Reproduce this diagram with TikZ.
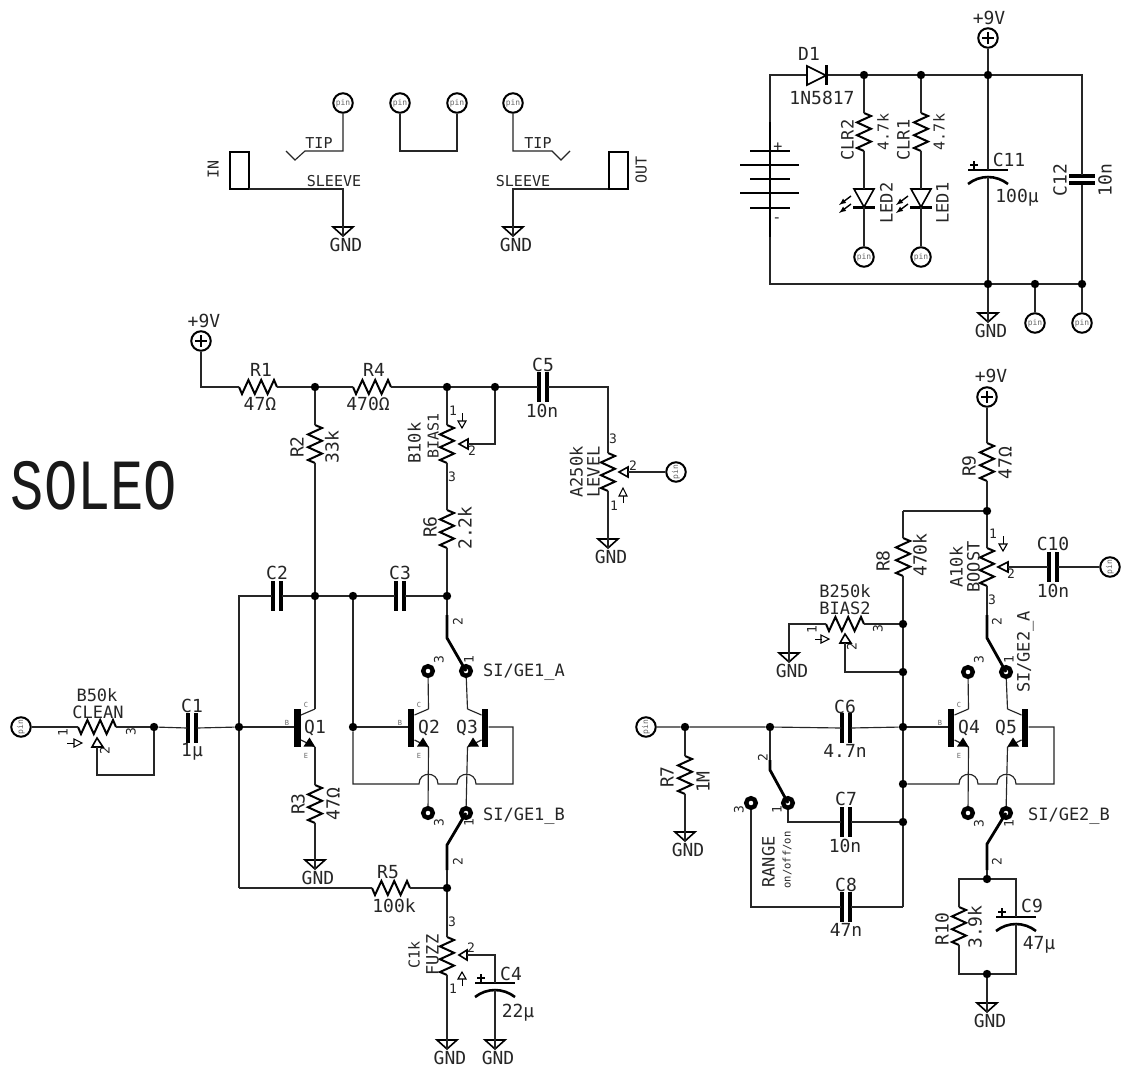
\documentclass[tikz,border=0pt]{standalone}
\usepackage{fontspec}
\newfontfamily\vf{DejaVu Sans Mono}
\newfontfamily\tf{Liberation Mono}
\usetikzlibrary{calc}
\tikzset{
 wire/.style={line width=1.15pt,black!85,line join=miter},
 zig/.style={line width=2pt,black,line join=miter},
 heavy/.style={line width=2.8pt,black},
 plate/.style={line width=2.6pt,black},
 tri/.style={line width=1.6pt,black,fill=white,line join=miter},
 junc/.style={circle,fill=black,inner sep=0,minimum size=8.4pt},
 pinn/.style={circle,draw=black,line width=2pt,fill=white,inner sep=0,minimum size=19.5pt,text=black!60,font=\vf\fontsize{8}{8}\selectfont},
 pad/.style={circle,draw=black,line width=4.4pt,fill=white,inner sep=0,minimum size=9.6pt},
 lbl/.style={inner sep=0,text height=13pt,text depth=0pt,font=\vf\fontsize{18}{18}\selectfont,black!85},
 lblp/.style={inner sep=0,text height=13pt,text depth=0pt,font=\vf\fontsize{17}{17}\selectfont,black!85},
 lblm/.style={inner sep=0,text height=11pt,text depth=0pt,font=\vf\fontsize{15}{15}\selectfont,black!85},
 num/.style={inner sep=0,text height=9pt,text depth=0pt,font=\vf\fontsize{13}{13}\selectfont,black!85},
 tin/.style={inner sep=0,text height=5pt,text depth=0pt,font=\vf\fontsize{7}{7}\selectfont,black!60},
 up/.style={rotate=90},
}
% label: [style]{name}{x}{y}{text}
\newcommand\Lb[5][lbl]{\node[#1] (#2) at (#3,#4) {#5};}
\newcommand\J[3]{\node[junc] (#1) at (#2,#3) {};}
\newcommand\Pin[4][0]{\node[pinn] (#2) at (#3,#4) {\rotatebox{#1}{pin}};}
\newcommand\Pwr[3]{\node[pinn] (#1) at (#2,#3) {};\draw[line width=1.1pt] (#2-6,#3)--(#2+6,#3) (#2,#3-6)--(#2,#3+6);}
\newcommand\Gnd[3]{\coordinate (#1) at (#2,#3);\draw[tri,fill=none] (#2-10,#3-9)--(#2+10,#3-9)--(#2,#3)--cycle;\node[lbl] (#1t) at (#2+3,#3+9) {GND};}
\newcommand\Rv[3]{\coordinate (#1a) at (#2,#3);\coordinate (#1b) at (#2,#3+38);
 \draw[zig] (#2,#3)--(#2+7,#3+3)--(#2-7,#3+9.4)--(#2+7,#3+15.8)--(#2-7,#3+22.2)--(#2+7,#3+28.6)--(#2-7,#3+35)--(#2,#3+38);}
\newcommand\Rh[3]{\coordinate (#1a) at (#2,#3);\coordinate (#1b) at (#2+38,#3);
 \draw[zig] (#2,#3)--(#2+3,#3+7)--(#2+9.4,#3-7)--(#2+15.8,#3+7)--(#2+22.2,#3-7)--(#2+28.6,#3+7)--(#2+35,#3-7)--(#2+38,#3);}
\newcommand\Ch[3]{\coordinate (#1a) at (#2-5,#3);\coordinate (#1b) at (#2+5,#3);
 \draw[line width=4.2pt] (#2-4,#3-15)--(#2-4,#3+15) (#2+4,#3-15)--(#2+4,#3+15);}
\newcommand\Cv[3]{\coordinate (#1a) at (#2,#3-5);\coordinate (#1b) at (#2,#3+5);
 \draw[line width=4.2pt] (#2-13,#3-3.5)--(#2+13,#3-3.5) (#2-13,#3+3.5)--(#2+13,#3+3.5);}
\newcommand\Cp[3]{\coordinate (#1a) at (#2,#3);\coordinate (#1b) at (#2,#3+7);
 \draw[plate] (#2-20,#3)--(#2+20,#3);
 \draw[plate] (#2-20,#3+14) .. controls (#2-8,#3+4.7) and (#2+8,#3+4.7) .. (#2+20,#3+14);
 \draw[line width=1.6pt] (#2-18,#3-5)--(#2-10,#3-5) (#2-14,#3-9)--(#2-14,#3-1);}
% transistor: name, bar x, direction
\newcommand\Qt[3]{\coordinate (#1c) at (#2+#3*17.5,709);\coordinate (#1e) at (#2+#3*17.5,747);\coordinate (#1s) at (#2-#3*3.5,727);
 \draw[line width=6.8pt] (#2,709)--(#2,747);
 \draw[wire] (#2+#3*3.5,715)--(#1c);
 \draw[wire] (#2+#3*3.5,740)--(#1e);
 \fill (#2+#3*6,746.5)--(#2+#3*17.5,746.5)--(#2+#3*12,737.5)--cycle;}
% LED: name, x
\newcommand\Led[2]{\coordinate (#1a) at (#2,189);\coordinate (#1b) at (#2,207);
 \draw[tri,fill=none] (#2-10,189)--(#2+10,189)--(#2,207)--cycle;
 \draw[plate] (#2-11,207.5)--(#2+11,207.5);
 \draw[line width=1.4pt,-latex] (#2-13,196)--(#2-25,205);
 \draw[line width=1.4pt,-latex] (#2-13,204)--(#2-25,213);}
\begin{document}
\begin{tikzpicture}[x=1pt,y=-1pt]
\useasboundingbox (0,0) rectangle (1122,1065);
\fill[white] (0,0) rectangle (1122,1065);

\node[inner sep=0,font=\tf\fontsize{72}{72}\selectfont,black!90,text height=47pt,text depth=0pt,xscale=.77] (title) at (94,486) {SOLEO};

%===== input/output jacks
\Pin{pa}{343}{103}\Pin{pb}{400}{103}\Pin{pc}{457}{103}\Pin{pd}{513}{103}
\node[draw,line width=2pt,minimum width=19pt,minimum height=37pt,inner sep=0] (jin) at (239,170) {};
\node[draw,line width=2pt,minimum width=19pt,minimum height=37pt,inner sep=0] (jout) at (618,170) {};
\Lb[lblm,up]{tin}{213}{169}{IN}
\Lb[lblm,up]{tout}{641}{170}{OUT}
\coordinate (ta) at (343,151);\coordinate (tb) at (305,151);\coordinate (tc) at (295,160);\coordinate (td) at (286,151);
\draw[wire] (pa)--(ta)--(tb)--(tc)--(td);
\coordinate (tf) at (400,151);\coordinate (tg) at (457,151);
\draw[wire] (pb)--(tf)--(tg)--(pc);
\coordinate (th) at (513,151);\coordinate (ti) at (552,151);\coordinate (tj) at (561,160);\coordinate (tk) at (570,151);
\draw[wire] (pd)--(th)--(ti)--(tj)--(tk);
\Lb[lblm]{tip1}{319}{143}{TIP}\Lb[lblm]{tip2}{538}{143}{TIP}
\Lb[lblm]{sl1}{334}{181}{SLEEVE}\Lb[lblm]{sl2}{523}{181}{SLEEVE}
\Gnd{ga}{343}{236}\Gnd{gb}{513}{236}
\coordinate (sa) at (343,189);\coordinate (sb) at (513,189);
\coordinate (ji) at (249,189);\coordinate (jo) at (608,189);
\draw[wire] (ji)--(sa)--(ga);
\draw[wire] (jo)--(sb)--(gb);

%===== power section
\Pwr{v0}{988}{38}\Lb{v0t}{989}{18}{+9V}
\J{k1}{864}{75}\J{k2}{921}{75}\J{k3}{988}{75}
\J{k4}{988}{284}\J{k5}{1035}{284}\J{k6}{1082}{284}
\coordinate (bt) at (770,75);\coordinate (bb) at (770,284);\coordinate (rt) at (1082,75);
\coordinate (dA) at (807,75);\coordinate (dK) at (826,75);
\Cv{c12}{1082}{179.5}
\draw[wire] (k3)--(v0);
\draw[wire] (dA)--(bt)--(bb)--(k4)--(k5)--(k6);
\draw[wire] (dK)--(k1)--(k2)--(k3)--(rt)--(c12a) (c12b)--(k6);
\draw[tri,fill=none] (807,66)--(807,85)--(826,75.5)--cycle;
\draw[plate] (826.5,65.5)--(826.5,85.5);
\Lb{d1t}{809}{54}{D1}\Lb{d1v}{822}{98}{1N5817}
\draw[plate] (770,122)--(770,237);
\draw[plate] (750,151)--(790,151) (740,165)--(799,165) (750,179)--(790,179) (740,193)--(799,193) (750,208)--(790,208);
\Lb[lblm]{bp}{778}{146}{+}\Lb[lblm]{bm}{777}{217}{-}
\Rv{clr2}{864}{113}\Rv{clr1}{921}{113}
\Lb[lblp,up]{c2t}{847}{140}{CLR2}\Lb[lblm,up]{c2v}{883}{132}{4.7k}
\Lb[lblp,up]{c1t}{903}{140}{CLR1}\Lb[lblm,up]{c1v}{939}{132}{4.7k}
\Led{l2}{864}\Led{l1}{921}
\Lb[lblp,up]{l2t}{886}{203}{LED2}\Lb[lblp,up]{l1t}{942}{203}{LED1}
\Pin{pl2}{864}{257}\Pin{pl1}{921}{257}
\draw[wire] (k1)--(clr2a) (clr2b)--(l2a) (l2b)--(pl2);
\draw[wire] (k2)--(clr1a) (clr1b)--(l1a) (l1b)--(pl1);
\Cp{c11}{988}{170}
\draw[wire] (k3)--(c11a) (c11b)--(k4);
\Lb{c11t}{1009}{160}{C11}\Lb{c11v}{1017}{196}{100µ}
\Lb[lbl,up]{c12t}{1060}{180}{C12}\Lb[lbl,up]{c12v}{1105}{180}{10n}
\Gnd{gc}{988}{322}\Pin{pe}{1035}{323}\Pin{pf}{1082}{323}
\draw[wire] (k4)--(gc) (k5)--(pe) (k6)--(pf);

%===== left: supply and bias
\Pwr{v1}{201}{341}\Lb{v1t}{204}{321}{+9V}
\coordinate (v1c) at (201,387);
\J{m1}{315}{387}\J{m2}{447}{387}\J{m3}{495}{387}
\Rh{r1}{239}{387}\Rh{r4}{353}{387}
\Lb{r1t}{261}{370}{R1}\Lb{r1v}{260}{404}{47Ω}
\Lb{r4t}{374}{370}{R4}\Lb{r4v}{368}{404}{470Ω}
\draw[wire] (v1)--(v1c)--(r1a) (r1b)--(m1)--(r4a) (r4b)--(m2)--(m3);
\Rv{r2}{315}{425}
\Lb[lbl,up]{r2t}{297}{447}{R2}\Lb[lbl,up]{r2v}{332}{447}{33k}
\J{m4}{315}{596}\J{m5}{353}{596}\J{m6}{447}{596}
\draw[wire] (m1)--(r2a) (r2b)--(m4);
\Rv{pb1}{447}{425}
\Lb[num]{pb1n}{453}{411}{1}\Lb[num]{pb2n}{472}{451}{2}\Lb[num]{pb3n}{452}{477}{3}
\Lb[lblp,up]{pb1v}{414}{443}{B10k}\Lb[lblm,up]{pb1t}{433}{436}{BIAS1}
\coordinate (pb1w) at (468,444);
\draw[tri] (459,444)--(468,439)--(468,449)--cycle;
\draw[wire] (pb1w)-|(m3);
\draw[line width=1pt] (462,413)--(462,421);\draw[tri,line width=1.1pt,fill=none] (458,421)--(466,421)--(462,428)--cycle;
\Rv{r6}{447}{510}
\Lb[lbl,up]{r6t}{430}{527}{R6}\Lb[lbl,up]{r6v}{465}{528}{2.2k}
\draw[wire] (m2)--(pb1a) (pb1b)--(r6a) (r6b)--(m6);
% C5, level
\Ch{c5}{543}{387}
\Lb{c5t}{543}{365}{C5}\Lb{c5v}{542}{411}{10n}
\coordinate (c5e) at (608,387);
\Rv{plv}{608}{453}
\draw[wire] (m3)--(c5a) (c5b)--(c5e)--(plva);
\Lb[num]{pl3}{613}{439}{3}\Lb[num]{pl2n}{633}{466}{2}\Lb[num]{pl1n}{614}{506}{1}
\Lb[lblp,up]{plvv}{576}{472}{A250k}\Lb[lblp,up]{plt}{593}{472}{LEVEL}
\draw[tri] (619,472)--(628,467)--(628,477)--cycle;
\coordinate (plw) at (628,472);\Pin[90]{pg}{676}{472}
\draw[wire] (plw)--(pg);
\draw[line width=1pt] (623,503)--(623,496);\draw[tri,line width=1.1pt,fill=none] (619,496)--(627,496)--(623,488)--cycle;
\Gnd{gd}{608}{548}
\draw[wire] (plvb)--(gd);

%===== left: input
\Pin[90]{ph}{21}{727}
\Rh{pc1}{78}{727}
\Lb[lblp]{pc1v}{97}{695}{B50k}\Lb[lblp]{pc1t}{98}{712}{CLEAN}
\Lb[num,up]{pc1n}{63}{733}{1}\Lb[num,up]{pc2n}{105}{751}{2}\Lb[num,up]{pc3n}{131}{732}{3}
\draw[line width=1pt] (67,743)--(74,743);\draw[tri,line width=1.1pt,fill=none] (74,739)--(74,747)--(82,743)--cycle;
\draw[tri] (97,738)--(92,747)--(103,747)--cycle;
\J{n1}{154}{727}\J{n2}{239}{727}
\coordinate (pcw) at (97,747);\coordinate (pcx) at (97,775);
\draw[wire] (ph)--(pc1a) (pc1b)--(n1) (pcw)--(pcx)-|(n1);
\Ch{c1}{192}{728}
\Lb{c1tt}{192}{706}{C1}\Lb{c1vv}{192}{750}{1µ}
\draw[wire] (n1)--(c1a) (c1b)--(n2);
\Ch{c2}{277}{596}\Ch{c3}{400}{596}
\Lb{c2tt}{277}{573}{C2}\Lb{c3tt}{400}{573}{C3}
\coordinate (lc) at (239,596);\coordinate (ld) at (239,888);
\draw[wire] (c2a)--(lc)--(n2)--(ld);
\draw[wire] (c2b)--(m4)--(m5)--(c3a) (c3b)--(m6);

%===== Q1
\Qt{q1}{297.5}{1}
\draw[wire] (n2)--(q1s) (q1c)--(m4);
\Lb[tin]{q1b}{287}{723}{B}\Lb[tin]{q1cl}{306}{705}{C}\Lb[tin]{q1el}{306}{756}{E}
\Lb{q1t}{315}{727}{Q1}
\Rv{r3}{315}{785}
\Lb[lbl,up]{r3t}{298}{804}{R3}\Lb[lbl,up]{r3v}{333}{804}{47Ω}
\Gnd{ge}{315}{869}
\draw[wire] (q1e)--(r3a) (r3b)--(ge);

%===== Q2 Q3 switch
\Qt{q2}{411}{1}\Qt{q3}{485}{-1}
\J{m7}{353}{727}
\node[pad] (s1p3) at (428,671) {};\node[pad] (s1p1) at (466,671) {};
\node[pad] (s2p3) at (428,813) {};\node[pad] (s2p1) at (466,813) {};
\Lb[num,up]{s1n2}{458}{622}{2}\Lb[num,up]{s1n3}{439}{660}{3}\Lb[num,up]{s1n1}{469}{660}{1}
\Lb[num,up]{s2n3}{439}{823}{3}\Lb[num,up]{s2n1}{469}{823}{1}\Lb[num,up]{s2n2}{458}{862}{2}
\Lb[lblp]{s1t}{524}{670}{SI/GE1\_A}
\Lb[lblp]{s2t}{524}{814}{SI/GE1\_B}
\coordinate (s1a) at (447,615);\coordinate (s1b) at (447,638);
\draw[wire] (m6)--(s1a);
\draw[heavy] (s1a)--(s1b)--(s1p1.center);
\coordinate (s2b) at (447,845);\coordinate (s2a) at (447,870);
\J{m8}{447}{888}
\draw[heavy] (s2p1.center)--(s2b)--(s2a);
\draw[wire] (s2a)--(m8);
\draw[wire] (s1p3)--(q2c) (s1p1)--(q3c) (q2e)--(s2p3) (q3e)--(s2p1);
\draw[wire] (m7)--(q2s);
\draw[wire] (m5)--(m7);
\Lb[tin]{q2b}{400}{723}{B}\Lb[tin]{q2cl}{419}{705}{C}\Lb[tin]{q2el}{419}{756}{E}
\Lb{q2t}{429}{727}{Q2}\Lb{q3t}{467}{727}{Q3}
\coordinate (h1) at (513,727);\coordinate (h2) at (513,784);\coordinate (h3) at (353,784);
\draw[wire] (q3s)--(h1)--(h2)--(476,784) .. controls (476,771) and (457,771) .. (457,784)--(438,784) .. controls (438,771) and (419,771) .. (419,784)--(h3)--(m7);
% R5
\Rh{r5}{372}{888}
\Lb{r5t}{388}{872}{R5}\Lb{r5v}{394}{906}{100k}
\draw[wire] (ld)--(r5a) (r5b)--(m8);
% fuzz
\Rv{pf1}{447}{937}
\Lb[num]{pf3}{452}{922}{3}\Lb[num]{pf2}{471}{948}{2}\Lb[num]{pf1n}{453}{989}{1}
\Lb[lblm,up]{pfv}{414}{955}{C1k}\Lb[lblp,up]{pft}{432}{955}{FUZZ}
\draw[tri] (459,955)--(467,950)--(467,960)--cycle;
\draw[line width=1pt] (462,986)--(462,979);\draw[tri,line width=1.1pt,fill=none] (458,979)--(466,979)--(462,972)--cycle;
\Cp{c4}{495}{983}
\Lb{c4t}{511}{974}{C4}\Lb{c4v}{518}{1011}{22µ}
\coordinate (pfw) at (467,955);
\draw[wire] (pfw)-|(c4a);
\Gnd{gf}{447}{1049}\Gnd{gg}{495}{1049}
\draw[wire] (m8)--(pf1a) (pf1b)--(gf) (c4b)--(gg);

%===== right: input
\Pin[90]{pi}{646}{727}
\J{w1}{685}{727}\J{w2}{770}{727}\J{w3}{903}{727}\J{w4}{903}{784}\J{w5}{903}{822}\J{w6}{903}{672}\J{w7}{903}{624}
\Rv{r7}{685}{756}
\Lb[lbl,up]{r7t}{667}{777}{R7}\Lb[lbl,up]{r7v}{703}{782}{1M}
\Gnd{gh}{685}{841}
\draw[wire] (w1)--(r7a) (r7b)--(gh);
\Ch{c6}{846}{728}\Ch{c7}{846}{822}\Ch{c8}{846}{907}
\Lb{c6t}{845}{707}{C6}\Lb{c6v}{845}{751}{4.7n}
\Lb{c7t}{846}{799}{C7}\Lb{c7v}{845}{846}{10n}
\Lb{c8t}{846}{885}{C8}\Lb{c8v}{846}{930}{47n}
\draw[wire] (pi)--(w1)--(w2)--(c6a) (c6b)--(w3);
\node[pad] (sw3) at (751,803) {};\node[pad] (sw1) at (788,803) {};
\coordinate (swa) at (770,760);\coordinate (swb) at (770,770);
\draw[wire] (w2)--(swa);
\draw[heavy] (swa)--(swb)--(sw1.center);
\Lb[num,up]{sw2n}{763}{758}{2}\Lb[num,up]{sw3n}{739}{810}{3}\Lb[num,up]{sw1n}{777}{810}{1}
\coordinate (swc) at (788,822);\coordinate (swd) at (751,907);\coordinate (swe) at (903,907);
\draw[wire] (sw1)--(swc)--(c7a) (c7b)--(w5);
\draw[wire] (sw3)--(swd)--(c8a) (c8b)--(swe);
\Lb[lblp,up]{rgt}{768}{862}{RANGE}
\Lb[num,up]{rgo}{786}{860}{\fontsize{10.5}{10.5}\selectfont on/off/on}

%===== right: supply
\Pwr{v2}{987}{397}\Lb{v2t}{991}{376}{+9V}
\Rv{r9}{987}{443}
\Lb[lbl,up]{r9t}{969}{466}{R9}\Lb[lbl,up]{r9v}{1005}{463}{47Ω}
\J{w8}{987}{511}\coordinate (w9) at (903,511);
\draw[wire] (v2)--(r9a) (r9b)--(w8)--(w9);
\Rv{r8}{903}{538}
\Lb[lbl,up]{r8t}{883}{561}{R8}\Lb[lbl,up]{r8v}{920}{555}{470k}
\draw[wire] (w9)--(r8a) (r8b)--(w7)--(w6)--(w3)--(w4)--(w5)--(swe);
% bias2
\Rh{pb2}{826}{624}
\Lb[lblp]{pb2v}{845}{591}{B250k}\Lb[lblp]{pb2t}{845}{608}{BIAS2}
\Lb[num,up]{pb21}{812}{630}{1}\Lb[num,up]{pb22}{852}{647}{2}\Lb[num,up]{pb23}{878}{629}{3}
\draw[line width=1pt] (815,639)--(822,639);\draw[tri,line width=1.1pt,fill=none] (821,635)--(821,643)--(829,639)--cycle;
\draw[tri] (845,634)--(840,643)--(851,643)--cycle;
\coordinate (pb2w) at (845,643);\coordinate (pb2l) at (789,624);
\Gnd{gi}{789}{662}
\draw[wire] (pb2a)--(pb2l)--(gi) (pb2b)--(w7) (pb2w)|-(w6);
% boost
\Rv{pbo}{987}{548}
\Lb[num]{pbo1}{993}{534}{1}\Lb[num]{pbo2}{1011}{574}{2}\Lb[num]{pbo3}{992}{600}{3}
\Lb[lblp,up]{pbov}{956}{567}{A10k}\Lb[lblp,up]{pbot}{973}{567}{BOOST}
\draw[line width=1pt] (1003,536)--(1003,544);\draw[tri,line width=1.1pt,fill=none] (999,544)--(1007,544)--(1003,551)--cycle;
\draw[tri] (998,567)--(1008,562)--(1008,572)--cycle;
\coordinate (pbw) at (1008,567);
\Ch{c10}{1053}{567}
\Lb{c10t}{1053}{544}{C10}\Lb{c10v}{1053}{591}{10n}
\Pin[90]{pj}{1110}{567}
\draw[wire] (w8)--(pboa) (pbw)--(c10a) (c10b)--(pj);
%===== Q4 Q5
\Qt{q4}{951}{1}\Qt{q5}{1025}{-1}
\node[pad] (t1p3) at (968,672) {};\node[pad] (t1p1) at (1006,672) {};
\node[pad] (t2p3) at (968,813) {};\node[pad] (t2p1) at (1006,813) {};
\Lb[num,up]{t1n2}{997}{622}{2}\Lb[num,up]{t1n3}{979}{660}{3}\Lb[num,up]{t1n1}{1009}{660}{1}
\Lb[num,up]{t2n3}{979}{824}{3}\Lb[num,up]{t2n1}{1009}{824}{1}\Lb[num,up]{t2n2}{997}{862}{2}
\Lb[lblp,up]{t1t}{1023}{652}{SI/GE2\_A}
\Lb[lblp]{t2t}{1069}{814}{SI/GE2\_B}
\coordinate (t1a) at (987,615);\coordinate (t1b) at (987,638);
\draw[wire] (pbob)--(t1a);
\draw[heavy] (t1a)--(t1b)--(t1p1.center);
\coordinate (t2b) at (987,844);\coordinate (t2a) at (987,870);
\J{y1}{987}{879}\J{y2}{987}{974}
\draw[heavy] (t2p1.center)--(t2b)--(t2a);
\draw[wire] (t2a)--(y1);
\draw[wire] (t1p3)--(q4c) (t1p1)--(q5c) (q4e)--(t2p3) (q5e)--(t2p1);
\draw[wire] (w3)--(q4s);
\Lb[tin]{q4b}{940}{723}{B}\Lb[tin]{q4cl}{959}{705}{C}\Lb[tin]{q4el}{959}{756}{E}
\Lb{q4t}{969}{727}{Q4}\Lb{q5t}{1006}{727}{Q5}
\coordinate (h4) at (1054,727);\coordinate (h5) at (1054,784);
\draw[wire] (q5s)--(h4)--(h5)--(1016,784) .. controls (1016,771) and (997,771) .. (997,784)--(978,784) .. controls (978,771) and (959,771) .. (959,784)--(w4);
% R10 C9
\Rv{r10}{959}{907}
\Lb[lbl,up]{r10t}{942}{929}{R10}\Lb[lbl,up]{r10v}{975}{927}{3.9k}
\Cp{c9}{1016}{917}
\Lb{c9t}{1032}{906}{C9}\Lb{c9v}{1039}{943}{47µ}
\coordinate (e1) at (959,879);\coordinate (e2) at (1016,879);\coordinate (e3) at (959,974);\coordinate (e4) at (1016,974);
\draw[wire] (r10a)--(e1)--(y1)--(e2)--(c9a) (r10b)--(e3)--(y2)--(e4)--(c9b);
\Gnd{gj}{987}{1012}
\draw[wire] (y2)--(gj);
\end{tikzpicture}
\end{document}
